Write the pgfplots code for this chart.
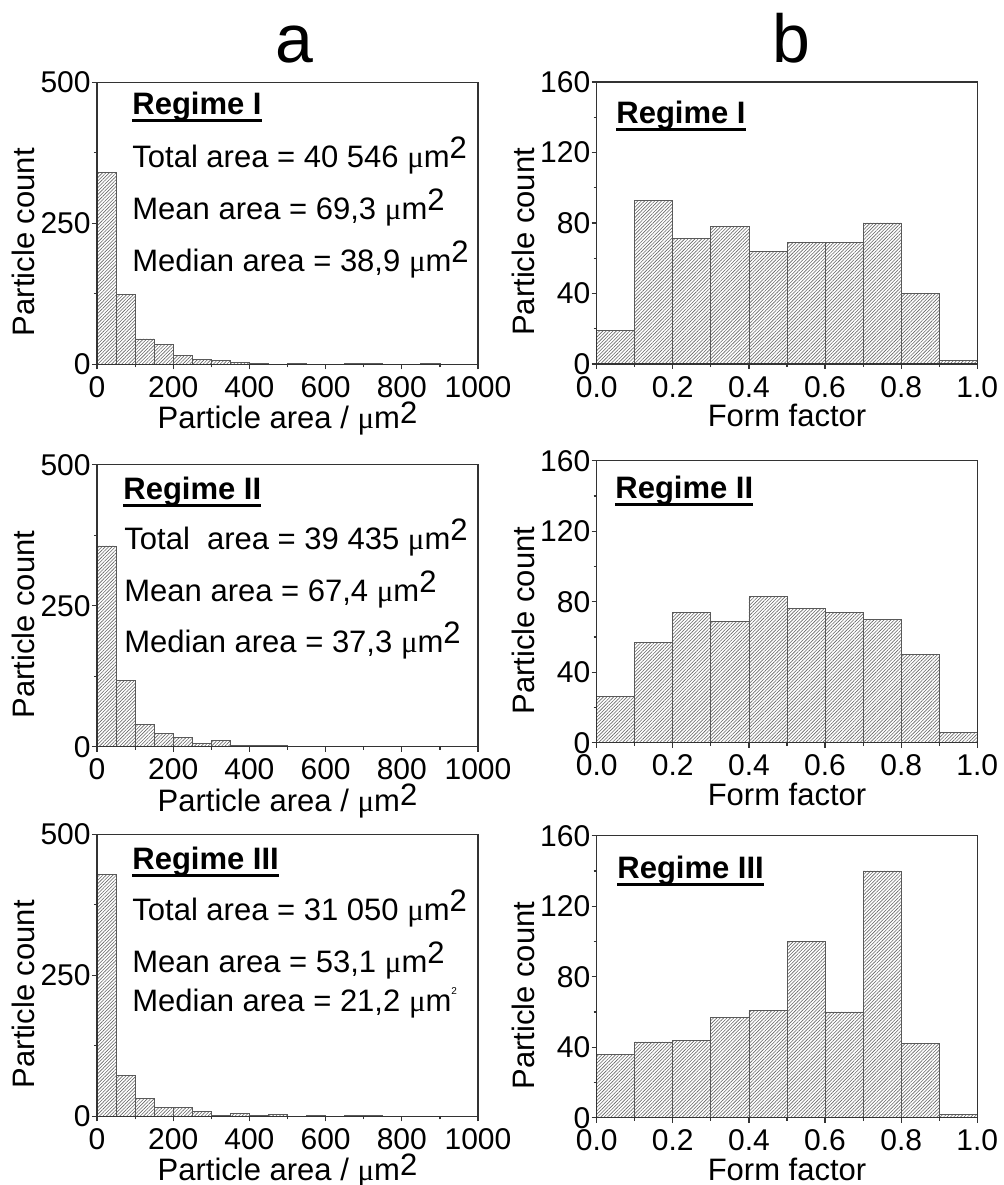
\documentclass[border=0pt]{standalone}
\usepackage{fontspec}
\setmainfont{Liberation Sans}
\newfontfamily\greekf{Liberation Serif}
\usepackage{pgfplots}
\pgfplotsset{compat=1.18}
\usetikzlibrary{patterns.meta}

% micro-metre squared, with a full-size raised 2
\newcommand{\um}{{\greekf μ}m\raisebox{0.3em}{2}}
\newcommand{\umlab}{{\greekf μ}m\raisebox{0.18em}{2}}
% bold heading with a Word-like underline
\newcommand{\regime}[1]{\textbf{\setbox0\hbox{#1}\rlap{\rule[-0.215em]{\wd0}{0.09em}}\box0}}

\pgfplotsset{
  hist/.style={
    scale only axis, axis on top,
    axis line style={black!80, line width=0.65pt},
    tick style={black!80, line width=0.6pt},
    tick align=outside, xtick pos=bottom, ytick pos=left,
    major tick length=2.5pt, minor tick length=1.5pt,
    ticklabel style={font=\fontsize{15}{15}\selectfont},
    yticklabel style={inner xsep=0.5pt, inner ysep=0pt},
    label style={font=\fontsize{15.5}{15.5}\selectfont},
    /pgf/number format/assume math mode=true,
    ymin=0,
    ylabel style={at={(axis description cs:-0.192,0.433)}, anchor=center},
    ylabel={Particle count},
  },
  bars/.style={ybar interval, draw=black!65, line width=0.4pt,
    pattern={Lines[angle=45,distance=1.2pt,line width=0.3pt]},
    pattern color=black!60},
  leftpanel/.style={hist, width=190.5pt, height=141pt,
    xmin=0, xmax=1000, ymax=500,
    xtick={0,200,400,600,800,1000}, minor xtick={100,300,500,700,900},
    ytick={0,250,500}, minor ytick={125,375},
    /pgf/number format/1000 sep={},
    xlabel style={at={(axis description cs:0.5,-0.229)}, anchor=base},
    xlabel={Particle area / \umlab}},
  rightpanel/.style={hist, width=190.3pt, height=141pt,
    xmin=0, xmax=1, ymax=160,
    xtick={0,0.2,0.4,0.6,0.8,1}, minor xtick={0.1,0.3,0.5,0.7,0.9},
    xticklabel style={/pgf/number format/.cd, fixed, fixed zerofill, precision=1},
    ytick={0,40,80,120,160}, minor ytick={20,60,100,140},
    xlabel style={at={(axis description cs:0.5,-0.2234)}, anchor=base},
    xlabel={Form factor}},
}

\begin{document}
\begin{tikzpicture}
\useasboundingbox (0,0) rectangle (501.5pt,592.5pt);

% ---- column a: particle area ----
\begin{axis}[leftpanel, at={(48.5pt,410.35pt)}, anchor=south west]
\addplot[bars] coordinates {
  (0,340)(50,124)(100,45)(150,35)(200,16)(250,9)(300,7)(350,3)(400,1)(450,0)
  (500,1)(550,0)(600,0)(650,1)(700,1)(750,0)(800,0)(850,1)(900,0)(950,0)(1000,0)};
\end{axis}

\begin{axis}[leftpanel, at={(48.5pt,219.15pt)}, anchor=south west]
\addplot[bars] coordinates {
  (0,356)(50,117)(100,39)(150,23)(200,17)(250,5)(300,11)(350,3)(400,3)(450,2)
  (500,1)(550,0)(600,0)(650,0)(700,0)(750,0)(800,0)(850,0)(900,1)(950,0)(1000,0)};
\end{axis}

\begin{axis}[leftpanel, at={(48.5pt,34.35pt)}, anchor=south west]
\addplot[bars] coordinates {
  (0,429)(50,73)(100,31)(150,15)(200,16)(250,9)(300,2)(350,5)(400,2)(450,3)
  (500,0)(550,1)(600,0)(650,1)(700,1)(750,0)(800,0)(850,0)(900,0)(950,0)(1000,0)};
\end{axis}

% ---- column b: form factor ----
\begin{axis}[rightpanel, at={(298.35pt,410.5pt)}, anchor=south west]
\addplot[bars] coordinates {
  (0,19)(0.1,93)(0.2,71)(0.3,78)(0.4,64)(0.5,69)(0.6,69)(0.7,80)(0.8,40)(0.9,2)(1,0)};
\end{axis}

\begin{axis}[rightpanel, at={(298.35pt,221.15pt)}, anchor=south west]
\addplot[bars] coordinates {
  (0,26)(0.1,57)(0.2,74)(0.3,69)(0.4,83)(0.5,76)(0.6,74)(0.7,70)(0.8,50)(0.9,6)(1,0)};
\end{axis}

\begin{axis}[rightpanel, at={(298.35pt,33.65pt)}, anchor=south west]
\addplot[bars] coordinates {
  (0,36)(0.1,43)(0.2,44)(0.3,57)(0.4,61)(0.5,100)(0.6,60)(0.7,140)(0.8,42)(0.9,2)(1,0)};
\end{axis}

% column letters
\node[anchor=base, inner sep=0, font=\fontsize{34}{34}\selectfont] at (147pt,561pt) {a};
\node[anchor=base, inner sep=0, font=\fontsize{34}{34}\selectfont] at (395.5pt,561pt) {b};

% annotations
\begin{scope}[every node/.style={anchor=base west, inner sep=0, font=\fontsize{15.5}{15.5}\selectfont}]
\node at (66pt,535pt)   {\regime{Regime I}};
\node at (66pt,508.5pt) {Total area = 40 546 \um};
\node at (66pt,482.5pt) {Mean area = 69,3 \um};
\node at (66pt,456.5pt) {Median area = 38,9 \um};

\node at (61.5pt,342.5pt) {\regime{Regime II}};
\node at (62pt,317.5pt)   {Total\ \ area = 39 435 \um};
\node at (62pt,291.5pt)   {Mean area = 67,4 \um};
\node at (62pt,266pt)     {Median area = 37,3 \um};

\node at (66pt,157.5pt) {\regime{Regime III}};
\node at (66pt,132pt)   {Total area = 31 050 \um};
\node at (66pt,106pt)   {Mean area = 53,1 \um};
\node at (66pt,86.5pt)  {Median area = 21,2 {\greekf μ}m\raisebox{0.55em}{\fontsize{5}{5}\selectfont 2}};

\node at (308pt,530.5pt)   {\regime{Regime I}};
\node at (307.5pt,343pt)   {\regime{Regime II}};
\node at (308.5pt,153pt)   {\regime{Regime III}};
\end{scope}
\end{tikzpicture}
\end{document}
